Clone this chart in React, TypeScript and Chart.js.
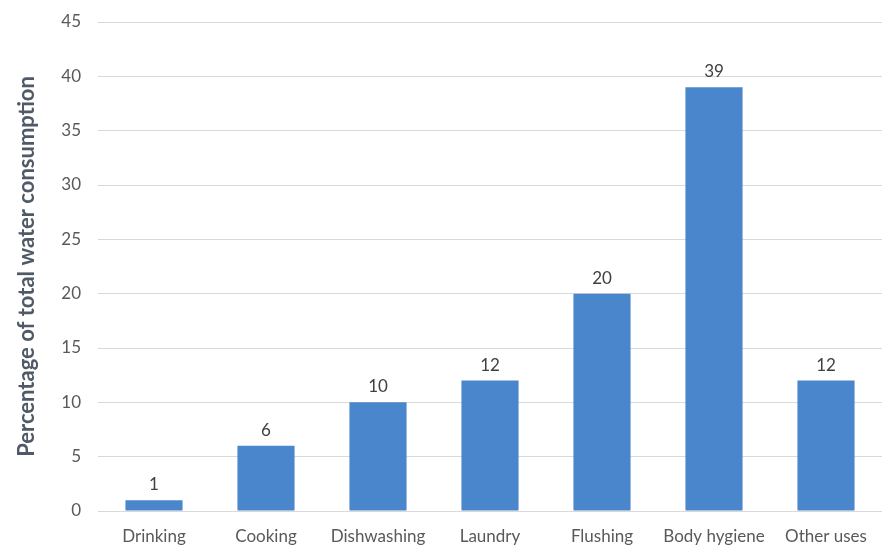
import React, { useEffect, useRef } from "react";
import { Chart, registerables } from "chart.js";

Chart.register(...registerables);

const categories = ["Drinking", "Cooking", "Dishwashing", "Laundry", "Flushing", "Body hygiene", "Other uses"];
const values = [1, 6, 10, 12, 20, 39, 12];
const yTicks = [0, 5, 10, 15, 20, 25, 30, 35, 40, 45];

const FONT = "Lato, 'Open Sans', sans-serif";

const labelPlugin = {
  id: "barLabels",
  afterDatasetsDraw(chart: any) {
    const ctx = chart.ctx;
    const meta = chart.getDatasetMeta(0);
    ctx.save();
    ctx.fillStyle = "#404040";
    ctx.font = `17px ${FONT}`;
    ctx.textAlign = "center";
    ctx.textBaseline = "bottom";
    meta.data.forEach((bar: any, i: number) => {
      ctx.fillText(String(values[i]), bar.x, bar.y - 7);
    });
    ctx.restore();
  },
};

export default function App() {
  const ref = useRef<HTMLCanvasElement>(null);
  useEffect(() => {
    document.body.style.margin = "0";
    const canvas = ref.current!;
    const ctx = canvas.getContext("2d")!;
    const chart = new Chart(ctx, {
      type: "bar",
      data: {
        labels: categories,
        datasets: [
          {
            data: values,
            backgroundColor: (c: any) => {
              const area = c.chart.chartArea;
              const el = c.element;
              if (!area || !el || el.width === undefined) return "#4a86cc";
              const x0 = el.x - el.width / 2;
              const g = c.chart.ctx.createLinearGradient(x0, 0, x0 + el.width, 0);
              g.addColorStop(0, "#4480c8");
              g.addColorStop(0.5, "#4d8bd2");
              g.addColorStop(1, "#3f7cc4");
              return g;
            },
            barPercentage: 0.51,
            categoryPercentage: 1,
          },
        ],
      },
      options: {
        animation: false,
        responsive: false,
        maintainAspectRatio: false,
        layout: { padding: { top: 22, right: 2, left: 0, bottom: 0 } },
        plugins: {
          legend: { display: false },
          tooltip: { enabled: false },
        },
        scales: {
          x: {
            grid: { display: false },
            border: { display: false },
            ticks: { color: "#595959", font: { family: FONT, size: 17 }, padding: 7, maxRotation: 0 },
            afterFit: (s: any) => { s.height = 37; },
          },
          y: {
            min: 0,
            max: 45,
            afterBuildTicks: (s: any) => { s.ticks = yTicks.map((v) => ({ value: v })); },
            grid: { color: "#d9d9d9", drawTicks: false, lineWidth: 1 },
            border: { display: false },
            ticks: { color: "#595959", font: { family: FONT, size: 17 }, padding: 17 },
            title: {
              display: true,
              text: "Percentage of total water consumption",
              color: "#4f5a66",
              font: { family: FONT, size: 22, weight: "bold" },
              padding: { top: 14, bottom: 8 },
            },
            afterFit: (s: any) => { s.width = 98; s.paddingTop = 0; s.paddingBottom = 0; },
          },
        },
      },
      plugins: [labelPlugin],
    });
    return () => chart.destroy();
  }, []);
  return <canvas ref={ref} width={884} height={548} style={{ display: "block" }} />;
}
